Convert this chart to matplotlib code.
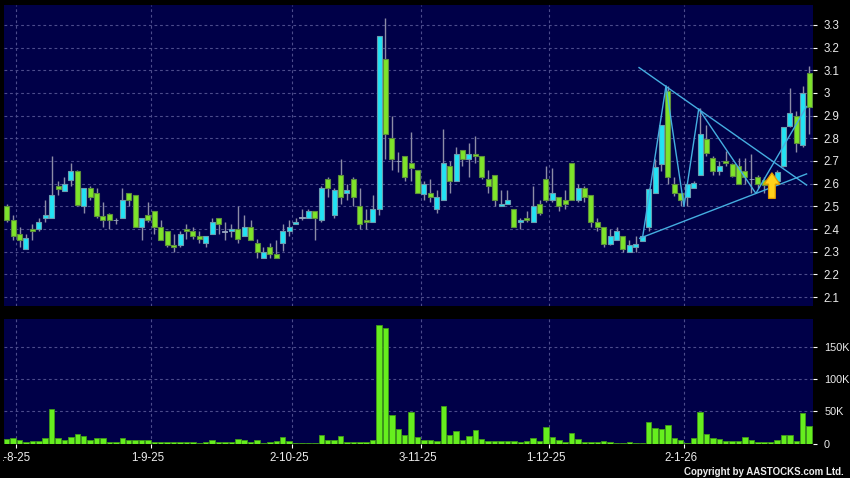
import matplotlib
matplotlib.use("Agg")
import matplotlib.pyplot as plt
import numpy as np
from matplotlib.patches import FancyArrow
from matplotlib.transforms import ScaledTranslation, Bbox

plt.rcParams['font.family'] = ['Liberation Sans', 'DejaVu Sans']

# ---------------- data ----------------
opens = [2.50, 2.44, 2.38, 2.31, 2.40, 2.40, 2.45, 2.45, 2.59, 2.567,
         2.616, 2.657, 2.50, 2.58, 2.56, 2.457, 2.468, 2.44, 2.45, 2.56,
         2.55, 2.41, 2.46, 2.48, 2.41, 2.39, 2.33, 2.33, 2.40, 2.39,
         2.37, 2.34, 2.38, 2.45, 2.39, 2.39, 2.40, 2.37, 2.41, 2.34,
         2.27, 2.32, 2.29, 2.34, 2.39, 2.42, 2.45, 2.45, 2.48, 2.44,
         2.62, 2.46, 2.64, 2.56, 2.62, 2.50, 2.44, 2.43, 2.49, 3.15,
         2.80, 2.70, 2.72, 2.69, 2.66, 2.555, 2.56, 2.49, 2.53, 2.68,
         2.61, 2.75, 2.71, 2.73, 2.72, 2.62, 2.64, 2.50, 2.51, 2.49,
         2.43, 2.45, 2.43, 2.51, 2.62, 2.53, 2.54, 2.53, 2.69, 2.53,
         2.58, 2.55, 2.43, 2.41, 2.335, 2.35, 2.37, 2.30, 2.32, 2.345,
         2.41, 2.56, 2.685, 3.01, 2.60, 2.56, 2.54, 2.58, 2.64, 2.795,
         2.715, 2.655, 2.70, 2.685, 2.68, 2.655, 2.62, 2.63, 2.615, 2.59,
         2.61, 2.68, 2.855, 2.90, 2.77, 3.09]
highs = [2.51, 2.46, 2.41, 2.38, 2.42, 2.45, 2.53, 2.72, 2.61, 2.63,
         2.69, 2.66, 2.58, 2.59, 2.58, 2.52, 2.47, 2.45, 2.58, 2.56,
         2.55, 2.45, 2.52, 2.48, 2.44, 2.39, 2.38, 2.39, 2.42, 2.41,
         2.39, 2.37, 2.45, 2.45, 2.43, 2.42, 2.50, 2.46, 2.44, 2.355,
         2.32, 2.34, 2.35, 2.42, 2.44, 2.45, 2.49, 2.49, 2.48, 2.59,
         2.63, 2.58, 2.71, 2.60, 2.63, 2.58, 2.49, 2.55, 3.25, 3.33,
         2.90, 2.74, 2.72, 2.83, 2.66, 2.61, 2.62, 2.57, 2.84, 2.70,
         2.76, 2.75, 2.78, 2.81, 2.72, 2.66, 2.64, 2.57, 2.57, 2.49,
         2.45, 2.48, 2.59, 2.53, 2.68, 2.67, 2.54, 2.57, 2.69, 2.60,
         2.59, 2.55, 2.45, 2.41, 2.40, 2.41, 2.37, 2.35, 2.37, 2.37,
         2.58, 2.71, 2.86, 3.03, 2.63, 2.56, 2.60, 2.61, 2.935, 2.86,
         2.72, 2.70, 2.745, 2.69, 2.715, 2.715, 2.73, 2.64, 2.63, 2.64,
         2.66, 2.85, 3.02, 2.92, 3.03, 3.12]
lows = [2.43, 2.35, 2.32, 2.31, 2.35, 2.39, 2.43, 2.45, 2.55, 2.567,
        2.59, 2.50, 2.47, 2.53, 2.45, 2.41, 2.40, 2.42, 2.45, 2.50,
        2.41, 2.35, 2.43, 2.38, 2.35, 2.32, 2.30, 2.32, 2.355, 2.355,
        2.34, 2.32, 2.38, 2.38, 2.35, 2.365, 2.34, 2.37, 2.35, 2.27,
        2.27, 2.27, 2.27, 2.305, 2.37, 2.42, 2.44, 2.45, 2.35, 2.43,
        2.54, 2.45, 2.51, 2.53, 2.50, 2.40, 2.40, 2.43, 2.46, 2.71,
        2.66, 2.65, 2.61, 2.61, 2.56, 2.53, 2.52, 2.47, 2.53, 2.56,
        2.61, 2.68, 2.63, 2.69, 2.62, 2.56, 2.50, 2.50, 2.51, 2.41,
        2.40, 2.43, 2.43, 2.46, 2.52, 2.52, 2.48, 2.49, 2.53, 2.52,
        2.52, 2.41, 2.39, 2.32, 2.33, 2.35, 2.30, 2.30, 2.30, 2.345,
        2.39, 2.56, 2.655, 2.60, 2.545, 2.50, 2.50, 2.58, 2.64, 2.72,
        2.64, 2.64, 2.68, 2.63, 2.60, 2.60, 2.56, 2.58, 2.56, 2.56,
        2.60, 2.675, 2.85, 2.74, 2.76, 2.82]
closes = [2.44, 2.37, 2.35, 2.36, 2.39, 2.43, 2.46, 2.55, 2.577, 2.60,
          2.657, 2.507, 2.58, 2.54, 2.456, 2.44, 2.44, 2.44, 2.53, 2.53,
          2.41, 2.45, 2.44, 2.41, 2.35, 2.33, 2.32, 2.38, 2.39, 2.37,
          2.355, 2.37, 2.43, 2.42, 2.39, 2.40, 2.355, 2.41, 2.35, 2.30,
          2.30, 2.29, 2.27, 2.39, 2.41, 2.43, 2.45, 2.48, 2.45, 2.58,
          2.58, 2.57, 2.54, 2.57, 2.54, 2.42, 2.43, 2.49, 3.25, 2.82,
          2.71, 2.70, 2.63, 2.67, 2.56, 2.60, 2.54, 2.54, 2.69, 2.61,
          2.73, 2.71, 2.73, 2.72, 2.63, 2.59, 2.53, 2.51, 2.53, 2.41,
          2.44, 2.44, 2.50, 2.47, 2.53, 2.56, 2.50, 2.51, 2.53, 2.58,
          2.54, 2.43, 2.41, 2.335, 2.37, 2.39, 2.31, 2.33, 2.335, 2.37,
          2.575, 2.675, 2.86, 2.63, 2.56, 2.53, 2.60, 2.605, 2.82, 2.735,
          2.655, 2.68, 2.69, 2.635, 2.60, 2.63, 2.62, 2.60, 2.595, 2.62,
          2.65, 2.85, 2.91, 2.78, 3.00, 2.94]
volumes = [7300, 8900, 4700, 3100, 4200, 4200, 7800, 53000, 8900, 5700,
           9400, 15000, 12000, 4700, 7800, 7800, 1600, 1600, 8900, 4700,
           4700, 5700, 6200, 3100, 3100, 1600, 3100, 3100, 1600, 1600,
           1000, 1600, 6200, 1600, 1600, 2600, 7300, 5700, 3100, 4700,
           500, 2600, 3600, 10400, 3600, 500, 400, 300, 400, 12500,
           6200, 4700, 12000, 3100, 3100, 3100, 3100, 4700, 183900, 180700,
           44800, 22900, 13500, 48400, 9900, 4700, 6200, 3600, 58000, 14000,
           19000, 5200, 12400, 21600, 7200, 3600, 3600, 3600, 3600, 4600,
           3100, 4600, 8200, 4100, 25800, 10300, 5200, 3100, 16000, 6700,
           2000, 2600, 3100, 3600, 3100, 1000, 1500, 2000, 1500, 1500,
           33500, 23700, 22700, 28400, 9300, 5200, 1000, 8800, 49500, 15500,
           9300, 7200, 4600, 4600, 4600, 9800, 6200, 2000, 2600, 3100,
           5200, 14000, 14000, 3600, 47400, 27800]

# index of the first trading day of each labelled month
month_start_index = [2, 23, 45, 65, 85, 106]
month_labels = ["1-8-25", "1-9-25", "2-10-25", "3-11-25", "1-12-25", "2-1-26"]

price_ticks = [2.1, 2.2, 2.3, 2.4, 2.5, 2.6, 2.7, 2.8, 2.9, 3.0, 3.1, 3.2, 3.3]
volume_ticks = [0, 50000, 100000, 150000]
volume_tick_labels = ["0", "50K", "100K", "150K"]

# drawn annotations (index, price)
down_trend_x = [98.5, 124.6]
down_trend_y = [3.112, 2.594]
up_trend_x = [98.6, 124.6]
up_trend_y = [2.359, 2.643]
zigzag_x = [99.05, 102.7, 105.5, 107.8, 116.7, 124.6]
zigzag_y = [2.362, 3.032, 2.50, 2.93, 2.557, 2.94]
arrow_index = 119.2
arrow_base = 2.535
arrow_top = 2.648

# ---------------- styling ----------------
W, H = 850, 478
BG = '#000048'
GRID = '#4c4c8c'
CYAN = '#22e3f4'
CYAN_EDGE = '#6a9db0'
GREEN = '#7ee42a'
GREEN_EDGE = '#5d8f3c'
WICK = '#8c8ca6'
VOL = '#66ee1e'
VOL_EDGE = '#3f9a18'
LINE = '#45aee0'
TXT = '#ececec'

fig = plt.figure(figsize=(W / 100, H / 100), dpi=100, facecolor='black')
ax = fig.add_axes([4 / W, 1 - 306 / H, 809 / W, 301 / H])
axv = fig.add_axes([4 / W, 1 - 443.5 / H, 809 / W, 124.5 / H])

o = np.array(opens); h = np.array(highs); l = np.array(lows); c = np.array(closes)
v = np.array(volumes)
x = np.arange(len(o))

for a in (ax, axv):
    a.set_facecolor(BG)
    for s in a.spines.values():
        s.set_visible(False)
    a.set_xlim(-0.42, 125.6)
    a.set_xticks([i - 0.5 for i in month_start_index])
    a.grid(True, color=GRID, ls=(0, (2.5, 2.5)), lw=0.8)
    a.set_axisbelow(True)
    a.yaxis.tick_right()

ax.tick_params(axis='y', colors='white', labelcolor=TXT, length=3, width=0.8,
               pad=4.5, labelsize=8.3)
axv.tick_params(axis='y', colors='white', labelcolor=TXT, length=3, width=0.8,
                pad=5, labelsize=7.8)

# price panel
ax.set_ylim(2.0605, 3.388)
ax.set_yticks(price_ticks)
ax.set_yticklabels([f"{t:g}" for t in price_ticks])
ax.tick_params(axis='x', length=0, labelbottom=False)

ax.vlines(x, l, h, color=WICK, lw=1.0, zorder=2)
up = c > o
dn = c < o
dj = c == o
body_w = 0.78
ax.bar(x[up], (c - o)[up], bottom=o[up], width=body_w, color=CYAN,
       edgecolor=CYAN_EDGE, lw=0.8, zorder=3)
ax.bar(x[dn], (o - c)[dn], bottom=c[dn], width=body_w, color=GREEN,
       edgecolor=GREEN_EDGE, lw=0.8, zorder=3)
ax.bar(x[dj], np.full(dj.sum(), 0.003), bottom=c[dj] - 0.0015, width=body_w,
       color='#9aa8c0', edgecolor='#9aa8c0', lw=0.6, zorder=3)

ax.plot(down_trend_x, down_trend_y, color=LINE, lw=1.0, zorder=4)
ax.plot(up_trend_x, up_trend_y, color=LINE, lw=1.0, zorder=4)
ax.plot(zigzag_x, zigzag_y, color=LINE, lw=1.0, zorder=4)

arr = FancyArrow(arrow_index, arrow_base, 0, arrow_top - arrow_base,
                 width=1.05, head_width=2.5, head_length=0.05,
                 length_includes_head=True, facecolor='#ffd21a',
                 edgecolor='#e09a00', lw=0.9, zorder=5)
ax.add_patch(arr)

# volume panel
axv.set_ylim(0, 194000)
axv.bar(x, v, width=0.85, color=VOL, edgecolor=VOL_EDGE, lw=0.6, zorder=3)
axv.set_yticks(volume_ticks)
axv.set_yticklabels(volume_tick_labels)
axv.set_xticklabels(month_labels)
axv.tick_params(axis='x', colors='white', labelcolor=TXT, length=3, width=0.8,
                pad=3, labelsize=8.3)

shift = ScaledTranslation(-3 / 100, 0, fig.dpi_scale_trans)
labels = axv.get_xticklabels()
for lbl in labels:
    lbl.set_transform(lbl.get_transform() + shift)
# the reference shows the first date label cut by the left edge ("-8-25")
labels[0].set_clip_box(Bbox([[3, 0], [W, H]]))
labels[0].set_clip_on(True)

fig.text(0.993, 0.012, "Copyright by AASTOCKS.com Ltd.", color=TXT,
         fontsize=7, fontweight='bold', ha='right', va='center')

fig.savefig("out.png", dpi=100, facecolor='black')
